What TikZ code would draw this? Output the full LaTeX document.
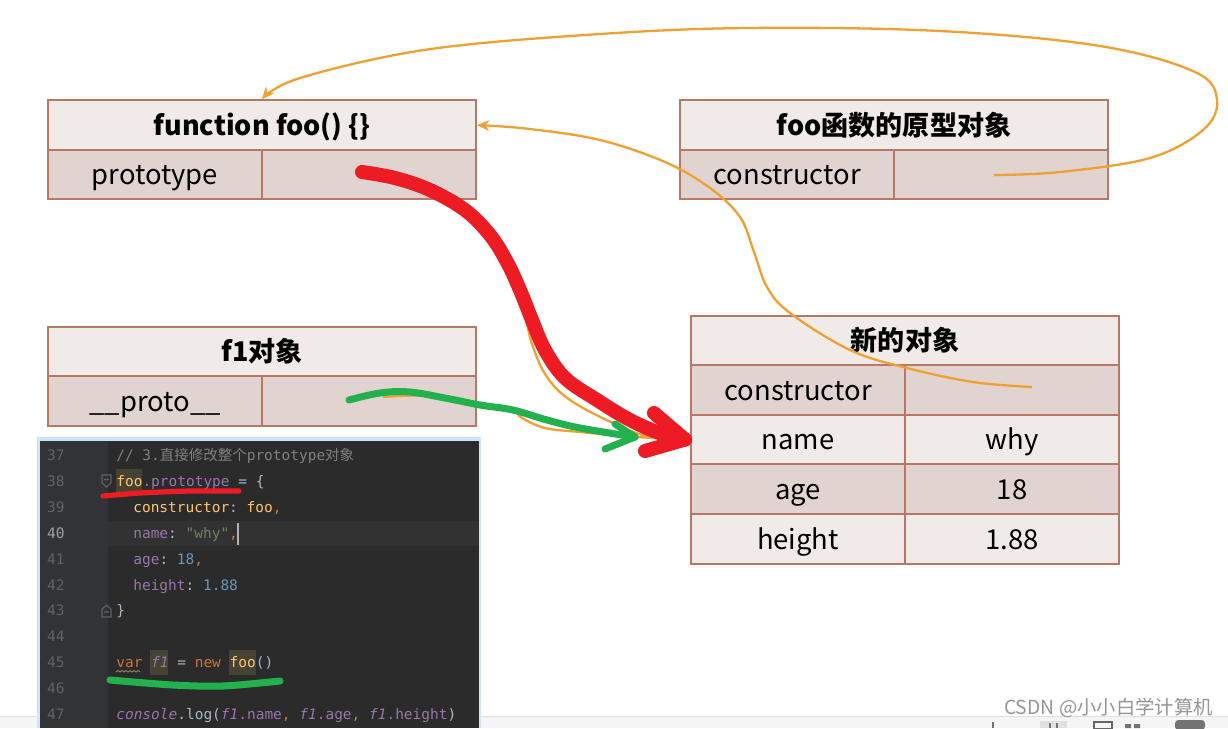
\documentclass[tikz,border=0pt]{standalone}
\usepackage{fontspec}
\setmainfont{Noto Sans CJK SC}
\setmonofont{DejaVu Sans Mono}
\newfontfamily\cjk{Noto Sans CJK SC}
\usetikzlibrary{arrows.meta,calc}
\definecolor{bord}{RGB}{183,120,100}
\definecolor{hdrfill}{RGB}{240,234,232}
\definecolor{rowfill}{RGB}{225,212,208}
\definecolor{orng}{RGB}{240,160,48}
\definecolor{redm}{RGB}{237,28,36}
\definecolor{grnm}{RGB}{34,177,76}
\definecolor{edbg}{RGB}{43,43,43}
\definecolor{gutbg}{RGB}{49,51,53}
\definecolor{curln}{RGB}{50,50,50}
\definecolor{lnum}{RGB}{96,99,102}
\definecolor{lnumc}{RGB}{164,163,163}
\definecolor{cmt}{RGB}{128,128,128}
\definecolor{fooY}{RGB}{255,198,109}
\definecolor{purp}{RGB}{152,118,170}
\definecolor{plain}{RGB}{169,183,198}
\definecolor{kw}{RGB}{204,120,50}
\definecolor{strg}{RGB}{106,135,89}
\definecolor{numb}{RGB}{104,151,187}
\definecolor{hlbg}{RGB}{70,67,52}
\definecolor{glow}{RGB}{205,228,250}
\definecolor{wm}{RGB}{150,150,150}
\definecolor{foldc}{RGB}{96,99,102}
\definecolor{wavy}{RGB}{150,140,80}
\tikzset{
  cellbase/.style={draw=bord, line width=1.1pt, inner sep=0pt, minimum height=0.99cm,
    text=black, text height=1.2em, text depth=0.05em},
  hcell/.style={cellbase, fill=hdrfill, minimum width=8.56cm, font=\fontsize{15.4pt}{18pt}\selectfont\bfseries},
  dcell/.style={cellbase, fill=rowfill, minimum width=4.28cm, font=\fontsize{15.6pt}{18pt}\selectfont},
  lcell/.style={cellbase, fill=hdrfill, minimum width=4.28cm, font=\fontsize{15.6pt}{18pt}\selectfont},
  oline/.style={draw=orng, line width=1.3pt},
  oarrow/.style={oline, -{Stealth[length=7pt,width=6pt]}},
  redstroke/.style={draw=redm, line width=8pt, line cap=round, line join=round},
  grnstroke/.style={draw=grnm, line width=4pt, line cap=round, line join=round},
  codetxt/.style={anchor=base west, inner sep=0pt, font=\fontsize{8.24pt}{10pt}\ttfamily, text=plain},
  lnumst/.style={anchor=base east, inner sep=0pt, font=\fontsize{8.24pt}{10pt}\ttfamily, text=lnum},
}
\begin{document}
\begin{tikzpicture}[x=0.02cm,y=-0.02cm]
\useasboundingbox (0,0) rectangle (1228,728);
\fill[white] (0,0) rectangle (1228,728);

% bottom status strip
\fill[black!4] (0,717) rectangle (1228,728);
\draw[black!12, line width=0.6pt] (0,716.5) -- (1228,716.5);
\draw[black!55, line width=0.8pt] (993,722) -- (993,728);
\fill[black!12] (1040,721) rectangle (1067,728);
\draw[black!55, line width=0.8pt] (1050,723) -- (1050,728) (1057,723) -- (1057,728);
\draw[black!60, line width=0.8pt] (1094,722) rectangle (1112,729);
\fill[black!55] (1125,724) rectangle (1131,728) (1134,724) rectangle (1140,728);
\fill[black!55, rounded corners=2pt] (1175,720) rectangle (1205,730);

% ---------- tables ----------
\node[hcell] (fooH) at (262,125) {function foo() \{\}};
\node[dcell] (fooK) at (155,174.5) {prototype};
\node[dcell] (fooV) at (369,174.5) {};

\node[hcell] (protoH) at (894,125) {foo函数的原型对象};
\node[dcell] (protoK) at (787,174.5) {constructor};
\node[dcell] (protoV) at (1001,174.5) {};

\node[hcell] (f1H) at (262,351.5) {f1对象};
\node[dcell] (f1K) at (155,401) {\_\_proto\_\_};
\node[dcell] (f1V) at (369,401) {};

\node[hcell] (newH) at (905,340.5) {新的对象};
\node[dcell] (newCK) at (798,390) {constructor};
\node[dcell] (newCV) at (1012,390) {};
\node[lcell] (newNK) at (798,439.5) {name};
\node[lcell] (newNV) at (1012,439.5) {why};
\node[dcell] (newAK) at (798,489) {age};
\node[dcell] (newAV) at (1012,489) {18};
\node[lcell] (newHK) at (798,539) {height};
\node[lcell] (newHV) at (1012,539) {1.88};

% ---------- code panel ----------
\fill[glow] (37,437) rectangle (481,728);
\fill[edbg] (40,441) rectangle (479,728);
\fill[gutbg] (40,441) rectangle (108,728);
\fill[curln] (108,521) rectangle (479,546);
\fill[hlbg] (116,469) rectangle (142,494);
\fill[hlbg] (150,650) rectangle (168,675);
\fill[hlbg] (229,650) rectangle (256,675);

\foreach \n/\yy in {37/460,38/486,39/512,41/564,42/590,43/615,44/641,45/667,46/693,47/719}
  \node[lnumst] (ln\n) at (65,\yy) {\n};
\node[lnumst, text=lnumc] (ln40) at (65,538) {40};

\node[codetxt, text=cmt] (c37) at (116,460) {// 3.{\cjk 直接修改整个}prototype{\cjk 对象}};
\node[codetxt] (c38) at (116,486) {\textcolor{fooY}{foo}\textcolor{purp}{.prototype} = \{};
\node[codetxt] (c39) at (133,512) {\textcolor{fooY}{constructor}: \textcolor{fooY}{foo}\textcolor{kw}{,}};
\node[codetxt] (c40) at (133,538) {\textcolor{purp}{name}: \textcolor{strg}{"why"}\textcolor{kw}{,}};
\node[codetxt] (c41) at (133,564) {\textcolor{purp}{age}: \textcolor{numb}{18}\textcolor{kw}{,}};
\node[codetxt] (c42) at (133,590) {\textcolor{purp}{height}: \textcolor{numb}{1.88}};
\node[codetxt] (c43) at (116,615) {\}};
\node[codetxt] (c45) at (116,667) {\textcolor{kw}{var} \textcolor{purp}{\itshape f1} = \textcolor{kw}{new} \textcolor{fooY}{foo}()};
\node[codetxt] (c47) at (116,719) {\textcolor{purp}{\itshape console}.log(\textcolor{purp}{\itshape f1}\textcolor{purp}{.name}\textcolor{kw}{,} \textcolor{purp}{\itshape f1}\textcolor{purp}{.age}\textcolor{kw}{,} \textcolor{purp}{\itshape f1}\textcolor{purp}{.height})};

% cursor, wavy underline, fold markers
\draw[black!30, line width=0.6pt] (238,523) -- (238,545);
\draw[wavy, line width=0.5pt] (116,672) -- (118,670.5) -- (120,672) -- (122,670.5) -- (124,672) -- (126,670.5) -- (128,672) -- (130,670.5) -- (132,672) -- (134,670.5) -- (136,672) -- (138,670.5) -- (140,672);
\draw[foldc, line width=0.6pt] (102,475) -- (111,475) -- (111,483) -- (106.5,487) -- (102,483) -- cycle (104,479.5) -- (109,479.5);
\draw[foldc, line width=0.6pt] (102,617) -- (111,617) -- (111,609) -- (106.5,605) -- (102,609) -- cycle (104,612) -- (109,612);

% ---------- orange connectors ----------
\coordinate (pcs) at (994,175);
\coordinate (ncs) at (1032,387);
\coordinate (redS) at (362,172);
\coordinate (f1s) at (383,397);
\draw[oarrow] plot[smooth, tension=0.6] coordinates {(pcs) (1060,172) (1150,158) (1203,130) (1217,100) (1195,72) (1100,46) (940,31) (746,28) (585,35) (424,50) (300,78) (fooH.north)};
\draw[oarrow] plot[smooth, tension=0.6] coordinates {(ncs) (973,382) (907,368) (850,350) (790,313) (767,287) (754,252) (740,217) (710,188) (665,162) (600,140) (530,129) (fooH.east)};
\draw[oarrow] plot[smooth, tension=0.6] coordinates {(redS) (420,186) (470,214) (503,255) (519,290) (525,315) (533,347) (547,377) (570,400) (613,423) (650,437) (newNK.west)};
\draw[oarrow] plot[smooth, tension=0.6] coordinates {(f1s) (430,396) (480,406) (512,410) (522,418) (545,428) (580,432) (637,437) (newNK.west)};

% ---------- hand-drawn marks ----------
\coordinate (redTip) at ($(newNK.west)+(-5,0)$);
\draw[redstroke] plot[smooth, tension=0.6] coordinates {(redS) (395,178) (430,190) (465,210) (490,235) (507,262) (520,290) (532,320) (545,350) (565,378) (597,400) (630,420) (662,434) (redTip)};
\draw[redstroke] (654,413) -- (redTip);
\draw[redstroke] (645,451) -- (redTip);

\coordinate (grnS) at (349,400);
\coordinate (grnTip) at (635,437);
\draw[grnstroke] plot[smooth, tension=0.6] coordinates {(grnS) (380,393) (410,392) (450,399) (480,405) (513,410) (547,420) (580,428) (grnTip)};
\draw[grnstroke] (615,424) -- (grnTip);
\draw[grnstroke] (605,449) -- (grnTip);

\draw[draw=redm, line width=3pt, line cap=round] plot[smooth] coordinates {(103,496) (140,493) (190,491) (239,491)};
\draw[grnstroke] plot[smooth] coordinates {(110,680) (173,685) (223,686) (280,681)};

% watermark
\node[font=\fontsize{11pt}{13pt}\selectfont, text=wm, anchor=east, inner sep=0pt] (wmk) at (1213,708) {CSDN @小小白学计算机};
\end{tikzpicture}
\end{document}
